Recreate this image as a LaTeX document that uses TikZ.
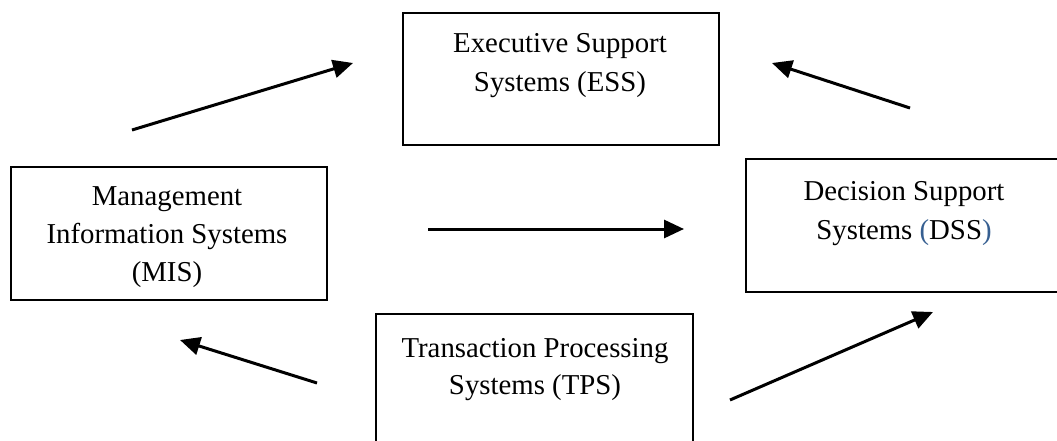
\documentclass[tikz,border=0pt]{standalone}
\usepackage{fontspec}
\setmainfont{Liberation Serif}
\usetikzlibrary{arrows.meta}
\definecolor{parenblue}{RGB}{54,95,145}
\tikzset{
  sysbox/.style={draw=black, line width=2.2pt},
  lbl/.style={anchor=base, inner sep=0pt, font=\fontsize{28.8}{38}\selectfont},
  flow/.style={line width=3pt, -{Triangle[length=20pt, width=18pt]}}
}
\begin{document}
\begin{tikzpicture}[x=1pt, y=-1pt]
  \clip (0,0) rectangle (1057,441);
  \fill[white] (0,0) rectangle (1057,441);

  % the four system boxes
  \node[sysbox, anchor=north west, minimum width=316pt, minimum height=132pt] (ess) at (402,12) {};
  \node[sysbox, anchor=north west, minimum width=316pt, minimum height=133pt] (mis) at (10,166) {};
  \node[sysbox, anchor=north west, minimum width=340pt, minimum height=133pt] (dss) at (745,158) {};
  \node[sysbox, anchor=north west, minimum width=317pt, minimum height=160pt] (tps) at (375,313) {};

  % labels
  \node[lbl] (ess1) at (560,53) {Executive Support};
  \node[lbl] (ess2) at (560,92) {Systems (ESS)};

  \node[lbl] (mis1) at (167,205) {Management};
  \node[lbl] (mis2) at (167,243) {Information Systems};
  \node[lbl] (mis3) at (167,281) {(MIS)};

  \node[lbl] (dss1) at (904,200) {Decision Support};
  \node[lbl] (dss2) at (904,239) {Systems \textcolor{parenblue}{(}DSS\textcolor{parenblue}{)}};

  \node[lbl] (tps1) at (535,357) {Transaction Processing};
  \node[lbl] (tps2) at (535,394) {Systems (TPS)};

  % arrow end points
  \coordinate (misOut) at (132,130);
  \coordinate (essInL) at (353,63);
  \coordinate (dssOut) at (910,108);
  \coordinate (essInR) at (772,63);
  \coordinate (misRight) at (428,229);
  \coordinate (dssIn) at (684,229);
  \coordinate (tpsOutL) at (317,383);
  \coordinate (misIn) at (180,340);
  \coordinate (tpsOutR) at (730,400);
  \coordinate (dssInB) at (933,312);

  % flows between the systems
  \draw[flow] (misOut) -- (essInL);
  \draw[flow] (dssOut) -- (essInR);
  \draw[flow] (misRight) -- (dssIn);
  \draw[flow] (tpsOutL) -- (misIn);
  \draw[flow] (tpsOutR) -- (dssInB);
\end{tikzpicture}
\end{document}
